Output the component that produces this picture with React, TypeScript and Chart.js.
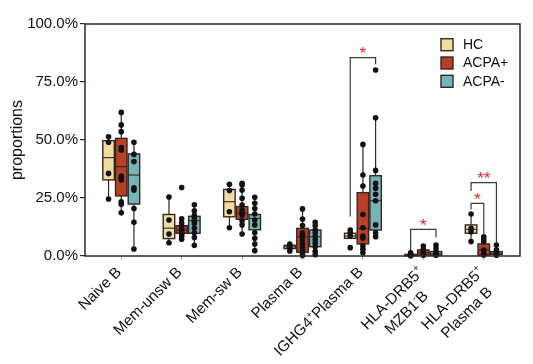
import React, { useEffect, useRef } from 'react';
import { Chart, registerables } from 'chart.js';

Chart.register(...registerables);

// ---------- data ----------
const categories: string[][] = [
  ['Naive B'],
  ['Mem-unsw B'],
  ['Mem-sw B'],
  ['Plasma B'],
  ['IGHG4⁺Plasma B'],
  ['HLA-DRB5⁺', 'MZB1⁻B'],
  ['HLA-DRB5⁺', 'Plasma B'],
];
const seriesNames = ['HC', 'ACPA+', 'ACPA-'];
const yTickValues = [0, 25, 50, 75, 100];

// box statistics: [lower whisker, Q1, median, Q3, upper whisker] (%)
const hcBoxes = [
  [24.6, 32.8, 42.4, 49.7, 51.4],
  [5.7, 7.5, 12.0, 17.9, 25.4],
  [12.2, 16.9, 23.4, 28.7, 30.9],
  [2.2, 3.2, 3.9, 4.6, 5.2],
  [7.6, 7.6, 8.6, 9.8, 11.2],
  [0.0, 0.1, 0.3, 0.7, 1.4],
  [6.2, 9.8, 11.5, 13.4, 18.1],
];
const acpaPosBoxes = [
  [18.4, 25.9, 38.5, 50.7, 61.9],
  [7.2, 9.8, 11.2, 13.1, 16.0],
  [9.5, 15.8, 18.4, 21.3, 31.3],
  [0.0, 1.6, 8.3, 11.9, 20.3],
  [1.4, 5.2, 11.9, 27.3, 48.1],
  [0.3, 0.4, 1.6, 2.6, 4.3],
  [0.4, 0.4, 2.6, 5.2, 8.3],
];
const acpaNegBoxes = [
  [3.0, 22.4, 34.9, 44.0, 49.0],
  [4.6, 9.8, 15.2, 17.1, 22.1],
  [2.3, 11.3, 16.2, 17.9, 25.3],
  [0.0, 4.0, 8.3, 11.2, 14.5],
  [8.3, 11.2, 23.8, 34.6, 59.6],
  [0.3, 0.4, 0.9, 1.9, 4.7],
  [0.3, 0.7, 1.2, 1.9, 4.7],
];

// individual samples (%)
const hcPoints = [
  [51.4, 49.0, 35.6, 24.6],
  [25.4, 15.5, 9.5, 5.7],
  [30.9, 28.2, 19.1, 12.2],
  [5.2, 4.3, 3.6, 2.2],
  [11.2, 10.0, 8.6, 3.6],
  [1.4, 0.5, 0.2, 0.1],
  [18.1, 11.9, 10.5, 6.2],
];
const acpaPosPoints = [
  [61.9, 56.5, 53.6, 46.7, 45.7, 34.5, 33.7, 32.8, 23.4, 22.3, 18.6],
  [29.5, 16.0, 14.2, 12.8, 11.5, 10.8, 10.0, 9.2, 8.4, 7.2],
  [31.3, 30.6, 28.4, 24.9, 22.0, 19.8, 18.7, 17.7, 15.2, 13.4, 9.5],
  [20.3, 15.9, 13.1, 10.0, 9.4, 8.3, 6.9, 5.2, 3.7, 2.6, 1.1, 0.2],
  [48.1, 34.9, 30.2, 17.9, 12.2, 8.6, 7.6, 4.3, 2.9, 1.4],
  [4.3, 2.9, 1.4, 0.5, 0.3],
  [8.3, 7.3, 6.2, 2.6, 1.1, 0.4],
];
const acpaNegPoints = [
  [49.0, 43.8, 40.7, 29.4, 28.4, 20.5, 14.5, 3.0],
  [22.1, 19.5, 17.5, 16.5, 15.2, 14.0, 12.0, 10.0, 8.0, 4.6],
  [25.3, 22.7, 20.5, 18.1, 15.5, 13.4, 10.0, 7.6, 5.2, 2.3],
  [14.5, 13.0, 11.2, 10.0, 8.5, 7.0, 5.5, 4.0, 2.0, 0.5],
  [80.2, 59.6, 36.9, 31.3, 29.2, 26.6, 23.8, 13.4, 10.0, 8.3],
  [4.7, 3.3, 1.9, 1.1, 0.3],
  [4.7, 2.6, 1.5, 0.7, 0.3],
];

// significance brackets: [category, fromSeries, toSeries, top %, left end %, right end %, label]
const sigBrackets: [number, number, number, number, number, number, string][] = [
  [4, 0, 2, 85.5, 17.0, 82.6, '*'],
  [5, 0, 2, 11.5, 2.5, 8.0, '*'],
  [6, 0, 1, 22.7, 20.0, 9.0, '*'],
  [6, 0, 2, 31.6, 28.0, 5.5, '**'],
];

// ---------- style ----------
const FONT = '"Liberation Sans", Arial, Helvetica, sans-serif';
const seriesFill = ['#f1dca3', '#b83f28', '#74b5b9'];
const edgeColor = '#35261f';
const seriesOffset = [-0.21, 0, 0.21];
const boxWidth = 0.19;
const LABEL_SIZE = 15.3;

const allBoxes = [hcBoxes, acpaPosBoxes, acpaNegBoxes];
const allPoints = [hcPoints, acpaPosPoints, acpaNegPoints];

// split a label line into normal / superscript runs
function runsOf(line: string) {
  const runs: { t: string; sup: boolean }[] = [];
  for (const ch of line) {
    const sup = ch === '⁺' || ch === '⁻';
    const t = ch === '⁺' ? '+' : ch === '⁻' ? '-' : ch;
    const last = runs[runs.length - 1];
    if (last && last.sup === sup) last.t += t;
    else runs.push({ t, sup });
  }
  return runs;
}

const boxPlugin = {
  id: 'boxes',
  beforeDatasetsDraw(chart: any) {
    const { ctx, scales } = chart;
    const x = scales.x;
    const y = scales.y;
    const half = (x.getPixelForValue(boxWidth) - x.getPixelForValue(0)) / 2;
    ctx.save();
    allBoxes.forEach((boxes, s) => {
      boxes.forEach((b, i) => {
        const cx = x.getPixelForValue(i + seriesOffset[s]);
        const [lo, q1, med, q3, hi] = b.map((v) => y.getPixelForValue(v));
        ctx.strokeStyle = edgeColor;
        ctx.lineWidth = 1.2;
        ctx.beginPath();
        ctx.moveTo(cx, hi);
        ctx.lineTo(cx, q3);
        ctx.moveTo(cx, q1);
        ctx.lineTo(cx, lo);
        ctx.stroke();
        ctx.fillStyle = seriesFill[s];
        ctx.fillRect(cx - half, q3, 2 * half, q1 - q3);
        ctx.lineWidth = 1.4;
        ctx.strokeRect(cx - half, q3, 2 * half, q1 - q3);
        ctx.lineWidth = 1.1;
        ctx.beginPath();
        ctx.moveTo(cx - half, med);
        ctx.lineTo(cx + half, med);
        ctx.stroke();
      });
    });
    ctx.restore();
  },
  afterDatasetsDraw(chart: any) {
    const { ctx, scales, chartArea } = chart;
    const x = scales.x;
    const y = scales.y;
    ctx.save();
    // frame
    ctx.strokeStyle = edgeColor;
    ctx.lineWidth = 1.5;
    ctx.strokeRect(chartArea.left, chartArea.top, chartArea.right - chartArea.left, chartArea.bottom - chartArea.top);
    // brackets
    sigBrackets.forEach(([cat, a, b, top, le, re, label]) => {
      const xa = x.getPixelForValue(cat + seriesOffset[a]);
      const xb = x.getPixelForValue(cat + seriesOffset[b]);
      const yt = y.getPixelForValue(top);
      ctx.strokeStyle = '#3b3b3b';
      ctx.lineWidth = 1.2;
      ctx.beginPath();
      ctx.moveTo(xa, y.getPixelForValue(le));
      ctx.lineTo(xa, yt);
      ctx.lineTo(xb, yt);
      ctx.lineTo(xb, y.getPixelForValue(re));
      ctx.stroke();
      ctx.fillStyle = '#e8282b';
      ctx.font = `17px ${FONT}`;
      ctx.textAlign = 'center';
      ctx.textBaseline = 'alphabetic';
      ctx.fillText(label, (xa + xb) / 2, yt + 1.5);
    });
    ctx.restore();
  },
  afterDraw(chart: any) {
    const { ctx, scales, chartArea } = chart;
    const x = scales.x;
    ctx.save();
    // x labels (rotated 45°), centred lines, block anchored at its right end
    const mainFont = `${LABEL_SIZE}px ${FONT}`;
    const supFont = `${LABEL_SIZE * 0.62}px ${FONT}`;
    ctx.fillStyle = '#111';
    const lineH = 20;
    const measure = (runs: { t: string; sup: boolean }[]) =>
      runs.reduce((w, r) => {
        ctx.font = r.sup ? supFont : mainFont;
        return w + ctx.measureText(r.t).width;
      }, 0);
    categories.forEach((lines, i) => {
      const px = x.getPixelForValue(i) + 1;
      const py = chartArea.bottom + 17;
      const runLines = lines.map(runsOf);
      const widths = runLines.map(measure);
      const W = Math.max(...widths);
      ctx.save();
      ctx.translate(px, py);
      ctx.rotate(-Math.PI / 4);
      ctx.textAlign = 'left';
      ctx.textBaseline = 'alphabetic';
      runLines.forEach((runs, k) => {
        let cx = -W / 2 - widths[k] / 2;
        runs.forEach((r) => {
          ctx.font = r.sup ? supFont : mainFont;
          ctx.fillText(r.t, cx, k * lineH + (r.sup ? -LABEL_SIZE * 0.42 : 0));
          cx += ctx.measureText(r.t).width;
        });
      });
      ctx.restore();
    });
    // y title
    ctx.save();
    ctx.font = `16px ${FONT}`;
    ctx.translate(18, (chartArea.top + chartArea.bottom) / 2);
    ctx.rotate(-Math.PI / 2);
    ctx.textAlign = 'center';
    ctx.textBaseline = 'middle';
    ctx.fillText('proportions', 0, 0);
    ctx.restore();
    // legend
    ctx.font = `14px ${FONT}`;
    ctx.textAlign = 'left';
    ctx.textBaseline = 'middle';
    const legX = chartArea.right - 79;
    const legY = chartArea.top + 20.7;
    seriesNames.forEach((name, s) => {
      const cy = legY + s * 18.3;
      ctx.fillStyle = seriesFill[s];
      ctx.fillRect(legX, cy - 6, 12, 12);
      ctx.strokeStyle = edgeColor;
      ctx.lineWidth = 1.4;
      ctx.strokeRect(legX, cy - 6, 12, 12);
      ctx.fillStyle = '#111';
      ctx.fillText(name, legX + 22, cy + 0.5);
    });
    ctx.restore();
  },
};

export default function App() {
  const ref = useRef<HTMLCanvasElement | null>(null);
  useEffect(() => {
    if (!ref.current) return;
    const datasets = seriesNames.map((name, s) => ({
      label: name,
      data: allPoints[s].flatMap((vals, i) => vals.map((v) => ({ x: i + seriesOffset[s], y: v }))),
      pointRadius: 2.8,
      pointHoverRadius: 2.8,
      backgroundColor: '#111',
      borderWidth: 0,
      clip: false as any,
    }));
    const chart = new Chart(ref.current, {
      type: 'scatter',
      data: { datasets },
      options: {
        animation: false,
        responsive: false,
        events: [],
        layout: { padding: { top: 24, right: 13, left: 0, bottom: 0 } },
        plugins: { legend: { display: false }, tooltip: { enabled: false } },
        scales: {
          x: {
            type: 'linear',
            min: -0.6,
            max: 6.6,
            afterBuildTicks: (s: any) => {
              s.ticks = categories.map((_, i) => ({ value: i }));
            },
            afterFit: (s: any) => {
              s.height = 108;
            },
            ticks: { display: false },
            grid: { drawOnChartArea: false, drawTicks: true, tickLength: 4, color: '#aaaaaa', lineWidth: 1 },
            border: { display: false },
          },
          y: {
            min: 0,
            max: 100,
            afterBuildTicks: (s: any) => {
              s.ticks = yTickValues.map((v) => ({ value: v }));
            },
            afterFit: (s: any) => {
              s.width = 85;
            },
            ticks: {
              callback: (v: any) => Number(v).toFixed(1) + '%',
              color: '#111',
              font: { family: FONT, size: 15 },
              padding: 2,
            },
            grid: { drawOnChartArea: false, drawTicks: true, tickLength: 5, color: edgeColor, lineWidth: 1.2 },
            border: { display: false },
          },
        },
      },
      plugins: [boxPlugin],
    });
    return () => chart.destroy();
  }, []);
  return (
    <div style={{ position: 'absolute', left: 0, top: 0, width: 533, height: 364, background: '#fff' }}>
      <canvas ref={ref} width={533} height={364} />
    </div>
  );
}
